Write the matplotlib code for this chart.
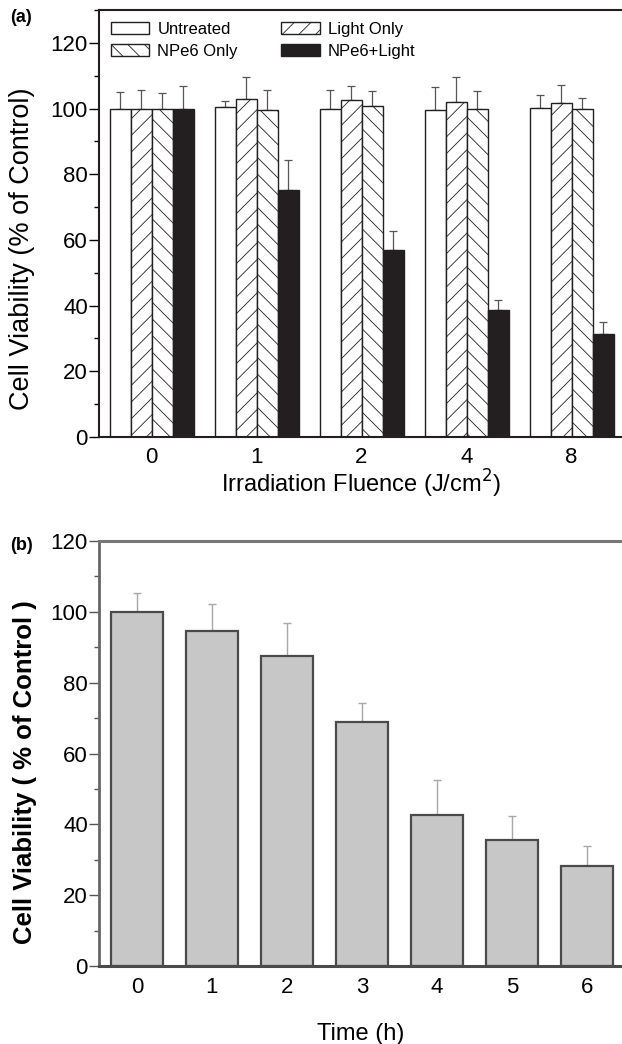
import numpy as np
import matplotlib
matplotlib.use("Agg")
import matplotlib.pyplot as plt
from matplotlib.ticker import MultipleLocator

plt.rcParams['font.family'] = ['Liberation Sans', 'DejaVu Sans']
plt.rcParams['hatch.linewidth'] = 0.6

# ---- Panel (a) data ----
fluence = ["0", "1", "2", "4", "8"]
series_a = ["Untreated", "Light Only", "NPe6 Only", "NPe6+Light"]
untreated = [100.0, 100.4, 99.8, 99.6, 100.3]
untreated_err = [5.0, 2.0, 5.7, 7.0, 3.8]
light_only = [100.0, 103.0, 102.6, 102.0, 101.6]
light_only_err = [5.7, 6.5, 4.3, 7.7, 5.6]
npe6_only = [100.0, 99.6, 100.8, 99.8, 100.0]
npe6_only_err = [4.8, 6.0, 4.6, 5.6, 3.3]
npe6_light = [100.0, 75.3, 56.8, 38.6, 31.5]
npe6_light_err = [7.0, 9.0, 6.0, 3.0, 3.4]

# ---- Panel (b) data ----
time_h = ["0", "1", "2", "3", "4", "5", "6"]
viability_b = [100.0, 94.7, 87.4, 68.9, 42.5, 35.6, 28.1]
viability_b_err = [5.4, 7.6, 9.4, 5.5, 9.9, 6.7, 5.7]

W, H = 622, 1044
fig = plt.figure(figsize=(W / 100, H / 100), dpi=100)

def frac(l, t, r, b):
    return [l / W, 1 - b / H, (r - l) / W, (b - t) / H]

# ================= Panel (a) =================
ax = fig.add_axes(frac(99, 10, 622, 437))
x = np.arange(len(fluence))
bw = 0.2
vals = [untreated, light_only, npe6_only, npe6_light]
errs = [untreated_err, light_only_err, npe6_only_err, npe6_light_err]
faces = ['white', 'white', 'white', '#231f20']
hatches = [None, '//', '\\\\', None]
for i, (v, e) in enumerate(zip(vals, errs)):
    pos = x + (i - 1.5) * bw
    ax.bar(pos, v, width=bw, color=faces[i], edgecolor='#231f20', linewidth=1.0,
           hatch=hatches[i], label=series_a[i], zorder=2)
    ax.errorbar(pos, v, yerr=[np.zeros(len(v)), e], fmt='none', ecolor='#555555',
                elinewidth=0.9, capsize=2.6, capthick=0.9, zorder=1)

ax.set_xlim(-0.5, 4.48)
ax.set_ylim(0, 130)
ax.set_xticks(x)
ax.set_xticklabels(fluence)
ax.tick_params(axis='x', length=0, labelsize=16, pad=7)
ax.yaxis.set_major_locator(MultipleLocator(20))
ax.yaxis.set_minor_locator(MultipleLocator(10))
ax.set_yticks(np.arange(0, 121, 20))
ax.tick_params(axis='y', which='major', length=7, width=1, labelsize=16, direction='out', pad=1)
ax.tick_params(axis='y', which='minor', length=3.5, width=1, direction='out')
for s in ['left', 'bottom', 'top']:
    ax.spines[s].set_linewidth(1.5)
    ax.spines[s].set_color('#231f20')
ax.spines['right'].set_visible(False)
ax.set_xlabel("Irradiation Fluence (J/cm$^2$)", fontsize=17, labelpad=0)
ax.set_ylabel("Cell Viability (% of Control)", fontsize=19.5)
ax.yaxis.set_label_coords(-0.122, 0.44)
handles, labels = ax.get_legend_handles_labels()
order = [0, 2, 1, 3]
ax.legend([handles[k] for k in order], [labels[k] for k in order], ncol=2,
          loc='upper left', bbox_to_anchor=(0.0, 1.0), frameon=False, fontsize=12,
          handlelength=2.3, handleheight=0.8, handletextpad=0.5, columnspacing=2.6,
          labelspacing=0.4, borderaxespad=0.4, borderpad=0.3)
fig.text(10 / W, 1 - 18 / H, "(a)", fontsize=13, fontweight='bold', ha='left', va='center')

# ================= Panel (b) =================
bx = fig.add_axes(frac(99, 541, 622, 966))
xb = np.arange(len(time_h))
bx.bar(xb, viability_b, width=0.7, color='#c7c7c7', edgecolor='#4a4a4a', linewidth=1.6, zorder=2)
bx.errorbar(xb, viability_b, yerr=[np.zeros(len(xb)), viability_b_err], fmt='none',
            ecolor='#a8a8a8', elinewidth=1.0, capsize=2.6, capthick=1.0, zorder=1)
bx.set_xlim(-0.505, 6.47)
bx.set_ylim(0, 120)
bx.set_xticks(xb)
bx.set_xticklabels(time_h)
bx.tick_params(axis='x', length=0, labelsize=16, pad=8)
bx.yaxis.set_major_locator(MultipleLocator(20))
bx.yaxis.set_minor_locator(MultipleLocator(10))
bx.tick_params(axis='y', which='major', length=7, width=1, labelsize=16, direction='out',
               color='#555555', pad=1)
bx.tick_params(axis='y', which='minor', length=3.5, width=1, direction='out', color='#555555')
bx.spines['top'].set_linewidth(2.2)
bx.spines['top'].set_color('#777777')
bx.spines['left'].set_linewidth(2.0)
bx.spines['left'].set_color('#666666')
bx.spines['bottom'].set_linewidth(2.2)
bx.spines['bottom'].set_color('#4a4a4a')
bx.spines['right'].set_visible(False)
bx.set_xlabel("Time (h)", fontsize=17, labelpad=18)
bx.set_ylabel("Cell Viability ( % of Control )", fontsize=18.5, fontweight='bold')
bx.yaxis.set_label_coords(-0.119, 0.455)
fig.text(10 / W, 1 - 546 / H, "(b)", fontsize=13, fontweight='bold', ha='left', va='center')

fig.savefig("out.png", dpi=100)
